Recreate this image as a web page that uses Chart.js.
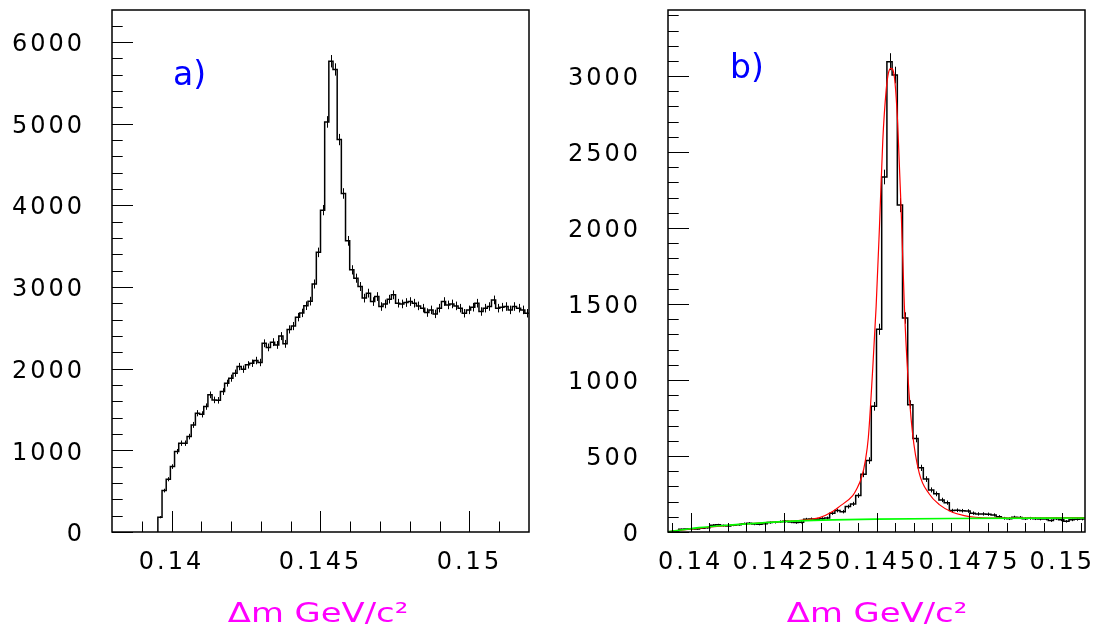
<!DOCTYPE html>
<html>
<head>
<meta charset="utf-8">
<script src="https://cdn.jsdelivr.net/npm/chart.js@4.4.1/dist/chart.umd.min.js"></script>
<style>
  html, body { margin: 0; padding: 0; background: #fff; }
  #wrap { position: relative; width: 1099px; height: 630px; overflow: hidden; }
  canvas { position: absolute; top: 0; }
  #ca { left: 0; }
  #cb { left: 549px; }
</style>
</head>
<body>
<div id="wrap">
  <canvas id="ca" width="549" height="630"></canvas>
  <canvas id="cb" width="550" height="630"></canvas>
</div>
<script>
// ---- binning shared by both histograms ----
const binWidth = 0.00014;

// ---- a) all D* candidates ----
const firstEdgeA = 0.13954;
const countsA = [
  181, 507, 646, 801, 985, 1087, 1087, 1168, 1311, 1454,
  1440, 1535, 1679, 1617, 1612, 1719, 1822, 1883, 1944, 2025,
  1993, 2046, 2066, 2099, 2075, 2310, 2260, 2324, 2290, 2398,
  2303, 2480, 2521, 2630, 2682, 2770, 2826, 3036, 3423, 3940,
  5020, 5763, 5662, 4804, 4144, 3564, 3209, 3107, 3005, 2863,
  2924, 2821, 2882, 2760, 2792, 2850, 2903, 2801, 2792, 2809,
  2821, 2801, 2768, 2740, 2686, 2719, 2670, 2740, 2821, 2780,
  2792, 2768, 2740, 2678, 2719, 2752, 2801, 2699, 2740, 2760,
  2841, 2740, 2752, 2760, 2719, 2760, 2740, 2719, 2678
];
const xTicksA = [0.14, 0.145, 0.15];
const xLabelsA = ['0.14', '0.145', '0.15'];
const yTicksA = [0, 1000, 2000, 3000, 4000, 5000, 6000];
const yLabelsA = ['0', '1000', '2000', '3000', '4000', '5000', '6000'];

// ---- b) selected sample with fit ----
const firstEdgeB = 0.1394;
const countsB = [
  0, 6, 18, 20, 22, 20, 25, 28, 45, 47,
  42, 40, 45, 48, 55, 58, 52, 51, 55, 62,
  64, 68, 70, 66, 62, 64, 84, 86, 84, 88,
  92, 124, 141, 134, 167, 185, 240, 380, 470, 827,
  1334, 2336, 3095, 3007, 2151, 1408, 838, 615, 422, 348,
  277, 251, 211, 193, 141, 143, 140, 138, 124, 119,
  119, 117, 112, 101, 90, 88, 97, 95, 88, 90,
  88, 86, 86, 75, 88, 80, 70, 80, 84, 86
];
// total fit (signal + background)
const fitB = [
  [0.13939, 3], [0.14025, 25], [0.14132, 50], [0.14240, 68], [0.14309, 80],
  [0.14347, 95], [0.14382, 135], [0.14400, 167], [0.14436, 240], [0.14446, 280],
  [0.14460, 360], [0.14470, 470], [0.14478, 620], [0.14489, 1040], [0.14499, 1483],
  [0.14508, 2009], [0.14517, 2580], [0.14526, 2908], [0.14532, 3020], [0.14539, 3051],
  [0.14548, 2996], [0.14557, 2690], [0.14566, 2141], [0.14575, 1483], [0.14584, 1045],
  [0.14597, 650], [0.14615, 387], [0.14642, 250], [0.14669, 180], [0.14704, 130],
  [0.14736, 108], [0.14766, 97], [0.14803, 92], [0.14937, 93], [0.15061, 95]
];
// background component
const bkgB = [
  [0.13939, 2], [0.13979, 15], [0.14022, 29], [0.14113, 47], [0.14201, 62],
  [0.14290, 73], [0.14382, 80], [0.14497, 85], [0.14696, 89], [0.15061, 92]
];
const xTicksB = [0.14, 0.1425, 0.145, 0.1475, 0.15];
const xLabelsB = ['0.14', '0.1425', '0.145', '0.1475', '0.15'];
const yTicksB = [0, 500, 1000, 1500, 2000, 2500, 3000];
const yLabelsB = ['0', '500', '1000', '1500', '2000', '2500', '3000'];

const axisTitle = 'Δm GeV/c²';

Chart.defaults.font.family = "'DejaVu Sans', sans-serif";
Chart.defaults.color = '#000';

// step outline of a histogram as points on bin edges
function stepPoints(firstEdge, counts) {
  const pts = [{ x: firstEdge, y: 0 }];
  counts.forEach((c, k) => pts.push({ x: firstEdge + k * binWidth, y: c }));
  pts.push({ x: firstEdge + counts.length * binWidth, y: counts[counts.length - 1] });
  return pts;
}

function rangeSteps(from, to, step) {
  const out = [];
  for (let v = from; v <= to + step * 1e-6; v += step) out.push(+v.toFixed(6));
  return out;
}

function makePanel(id, cfg) {
  const deco = {
    id: 'deco' + id,
    beforeDraw(chart) {
      chart.ctx.letterSpacing = '3px';
    },
    beforeDatasetsDraw(chart) {
      // statistical error bars at bin centres
      const { ctx, chartArea: a, scales: { x, y } } = chart;
      ctx.save();
      ctx.beginPath();
      ctx.rect(a.left, a.top, a.right - a.left, a.bottom - a.top);
      ctx.clip();
      ctx.strokeStyle = '#000';
      ctx.lineWidth = 1;
      ctx.beginPath();
      cfg.counts.forEach((c, k) => {
        if (c <= 0) return;
        const e = Math.sqrt(c);
        const px = Math.round(x.getPixelForValue(cfg.firstEdge + (k + 0.5) * binWidth)) + 0.5;
        ctx.moveTo(px, y.getPixelForValue(c - e));
        ctx.lineTo(px, y.getPixelForValue(c + e));
      });
      ctx.stroke();
      ctx.restore();
    },
    afterDraw(chart) {
      const { ctx, chartArea: a, scales: { x, y } } = chart;
      ctx.save();
      ctx.letterSpacing = '0px';
      ctx.strokeStyle = '#000';
      ctx.lineWidth = 1;
      ctx.beginPath();
      // tick marks pointing into the frame
      cfg.xMinor.forEach(v => {
        const px = Math.round(x.getPixelForValue(v)) + 0.5;
        ctx.moveTo(px, a.bottom); ctx.lineTo(px, a.bottom - cfg.xMinorLen);
      });
      cfg.xTicks.forEach(v => {
        const px = Math.round(x.getPixelForValue(v)) + 0.5;
        ctx.moveTo(px, a.bottom); ctx.lineTo(px, a.bottom - cfg.xMajorLen);
      });
      cfg.yMinor.forEach(v => {
        const py = Math.round(y.getPixelForValue(v)) + 0.5;
        ctx.moveTo(a.left, py); ctx.lineTo(a.left + 10.7, py);
      });
      cfg.yTicks.forEach(v => {
        const py = Math.round(y.getPixelForValue(v)) + 0.5;
        ctx.moveTo(a.left, py); ctx.lineTo(a.left + 21, py);
      });
      ctx.stroke();
      // frame
      ctx.lineWidth = 1.5;
      ctx.strokeRect(a.left, a.top, a.right - a.left, a.bottom - a.top);
      // panel tag
      ctx.fillStyle = '#0000ff';
      ctx.font = "33px 'DejaVu Sans'";
      ctx.textAlign = 'left';
      ctx.textBaseline = 'alphabetic';
      ctx.fillText(cfg.tag, cfg.tagX, cfg.tagY);
      // axis title
      ctx.fillStyle = '#ff00ff';
      ctx.font = "26px 'DejaVu Sans'";
      ctx.textAlign = 'center';
      ctx.translate(cfg.titleX, 622);
      ctx.scale(1.3, 1);
      ctx.fillText(axisTitle, 0, 0);
      ctx.restore();
    }
  };

  const datasets = [{
    data: stepPoints(cfg.firstEdge, cfg.counts),
    stepped: 'before',
    borderColor: '#000',
    borderWidth: 1.5,
    pointRadius: 0,
    fill: false,
    order: 3
  }];
  if (cfg.fit) datasets.push({
    data: cfg.fit.map(p => ({ x: p[0], y: p[1] })),
    borderColor: '#ff0000', borderWidth: 1.2, pointRadius: 0,
    cubicInterpolationMode: 'monotone', fill: false, order: 2
  });
  if (cfg.bkg) datasets.push({
    data: cfg.bkg.map(p => ({ x: p[0], y: p[1] })),
    borderColor: '#00ff00', borderWidth: 1.6, pointRadius: 0,
    cubicInterpolationMode: 'monotone', fill: false, order: 1
  });

  return new Chart(document.getElementById(id), {
    type: 'line',
    data: { datasets },
    options: {
      responsive: false,
      animation: false,
      devicePixelRatio: 1,
      layout: { padding: { left: 0, right: cfg.padRight, top: 10, bottom: 0 } },
      plugins: { legend: { display: false }, tooltip: { enabled: false } },
      scales: {
        x: {
          type: 'linear', min: cfg.xMin, max: cfg.xMax,
          grid: { display: false }, border: { display: false },
          afterBuildTicks: s => { s.ticks = cfg.xTicks.map(v => ({ value: v })); },
          afterFit: s => { s.height = 98; s.paddingLeft = 0; s.paddingRight = 0; },
          ticks: {
            autoSkip: false, maxRotation: 0, padding: 8,
            font: { size: 24 }, color: '#000',
            callback: (v, i) => cfg.xLabels[i]
          }
        },
        y: {
          type: 'linear', min: 0, max: cfg.yMax,
          grid: { display: false }, border: { display: false },
          afterBuildTicks: s => { s.ticks = cfg.yTicks.map(v => ({ value: v })); },
          afterFit: s => { s.width = cfg.yWidth; s.paddingTop = 0; s.paddingBottom = 0; },
          ticks: {
            autoSkip: false, padding: 19, labelOffset: 3,
            font: { size: 24 }, color: '#000',
            callback: (v, i) => cfg.yLabels[i]
          }
        }
      }
    },
    plugins: [deco]
  });
}

makePanel('ca', {
  firstEdge: firstEdgeA, counts: countsA,
  xMin: 0.138, xMax: 0.152, yMax: 6390,
  xTicks: xTicksA, xLabels: xLabelsA, yTicks: yTicksA, yLabels: yLabelsA,
  xMinor: rangeSteps(0.139, 0.151, 0.001), yMinor: rangeSteps(200, 6200, 200),
  xMajorLen: 21, xMinorLen: 10.5,
  yWidth: 112, padRight: 20,
  tag: 'a)', tagX: 173, tagY: 85, titleX: 318
});

makePanel('cb', {
  firstEdge: firstEdgeB, counts: countsB, fit: fitB, bkg: bkgB,
  xMin: 0.13939, xMax: 0.15061, yMax: 3435,
  xTicks: xTicksB, xLabels: xLabelsB, yTicks: yTicksB, yLabels: yLabelsB,
  xMinor: rangeSteps(0.1395, 0.1505, 0.0005), yMinor: rangeSteps(100, 3400, 100),
  xMajorLen: 19, xMinorLen: 9,
  yWidth: 119, padRight: 14,
  tag: 'b)', tagX: 181, tagY: 78, titleX: 328
});
</script>
</body>
</html>
